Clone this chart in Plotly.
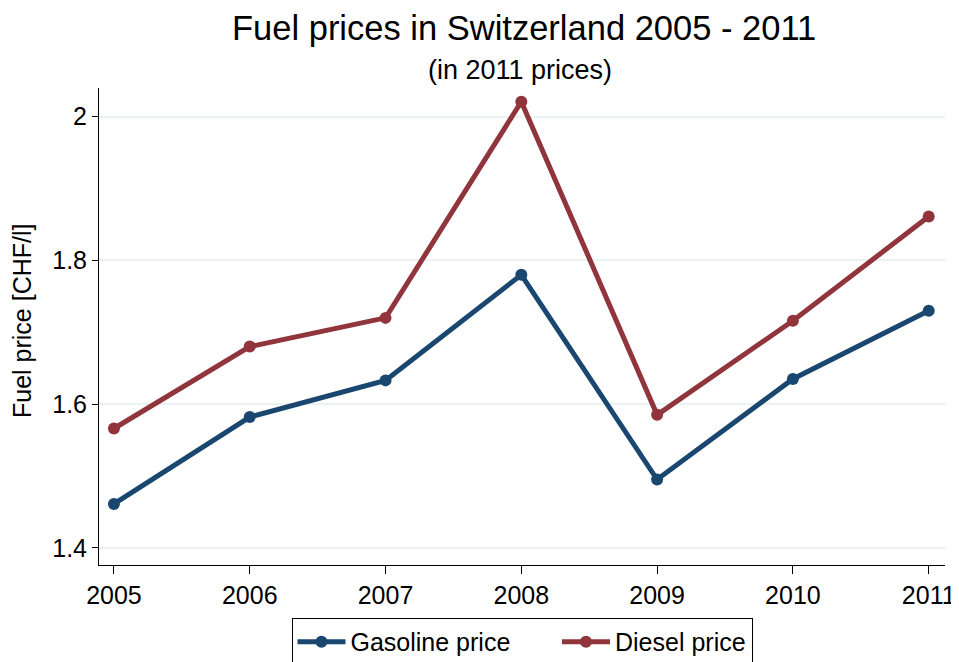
import plotly.graph_objects as go

years = [2005, 2006, 2007, 2008, 2009, 2010, 2011]
gasoline = [1.461, 1.582, 1.633, 1.780, 1.495, 1.635, 1.730]
diesel = [1.566, 1.680, 1.720, 2.021, 1.585, 1.716, 1.861]
y_ticks = [1.4, 1.6, 1.8, 2.0]
y_tick_labels = ['1.4', '1.6', '1.8', '2']

font_family = 'Liberation Sans, Arial, sans-serif'
pad = '\u00a0' * 6  # spacing between the two legend entries

fig = go.Figure()
fig.add_trace(go.Scatter(
    x=years, y=gasoline, mode='lines+markers', name='Gasoline price' + pad,
    line=dict(color='#1a476f', width=5),
    marker=dict(color='#1a476f', size=12)
))
fig.add_trace(go.Scatter(
    x=years, y=diesel, mode='lines+markers', name='Diesel price',
    line=dict(color='#90353b', width=5),
    marker=dict(color='#90353b', size=12)
))

# page body has an 8px margin, so the figure is 8px smaller than the window
fig.update_layout(
    width=951, height=654,
    paper_bgcolor='white',
    plot_bgcolor='white',
    font=dict(family=font_family, color='black', size=25),
    margin=dict(l=91, r=14, t=80, b=97, autoexpand=False),
    annotations=[
        dict(text='Fuel prices in Switzerland 2005 - 2011', xref='paper', yref='paper',
             x=0.502, y=1.1258, xanchor='center', yanchor='middle',
             showarrow=False, font=dict(size=34.5, color='black')),
        dict(text='(in 2011 prices)', xref='paper', yref='paper',
             x=0.498, y=1.0377, xanchor='center', yanchor='middle',
             showarrow=False, font=dict(size=27, color='black')),
        dict(text='Fuel price [CHF/l]', xref='paper', yref='paper',
             x=-0.091, y=0.5115, xanchor='center', yanchor='middle', textangle=-90,
             showarrow=False, font=dict(size=25, color='black')),
    ],
    xaxis=dict(
        range=[2004.89, 2011.12],
        tickvals=years,
        showgrid=False, zeroline=False, automargin=False,
        showline=True, linecolor='black', linewidth=1,
        ticks='outside', ticklen=8, tickcolor='black',
        tickfont=dict(size=25)
    ),
    yaxis=dict(
        range=[1.376, 2.040],
        tickvals=y_ticks, ticktext=y_tick_labels,
        showgrid=True, gridcolor='#eaf2f3', gridwidth=2,
        zeroline=False, automargin=False,
        showline=True, linecolor='black', linewidth=1,
        ticks='outside', ticklen=6, tickcolor='black',
        tickfont=dict(size=25)
    ),
    legend=dict(
        orientation='h', x=0.5, xanchor='center', y=-0.111, yanchor='top',
        bordercolor='black', borderwidth=1, bgcolor='white',
        font=dict(size=25), itemwidth=48
    ),
    showlegend=True
)

fig.write_html('out.html')
